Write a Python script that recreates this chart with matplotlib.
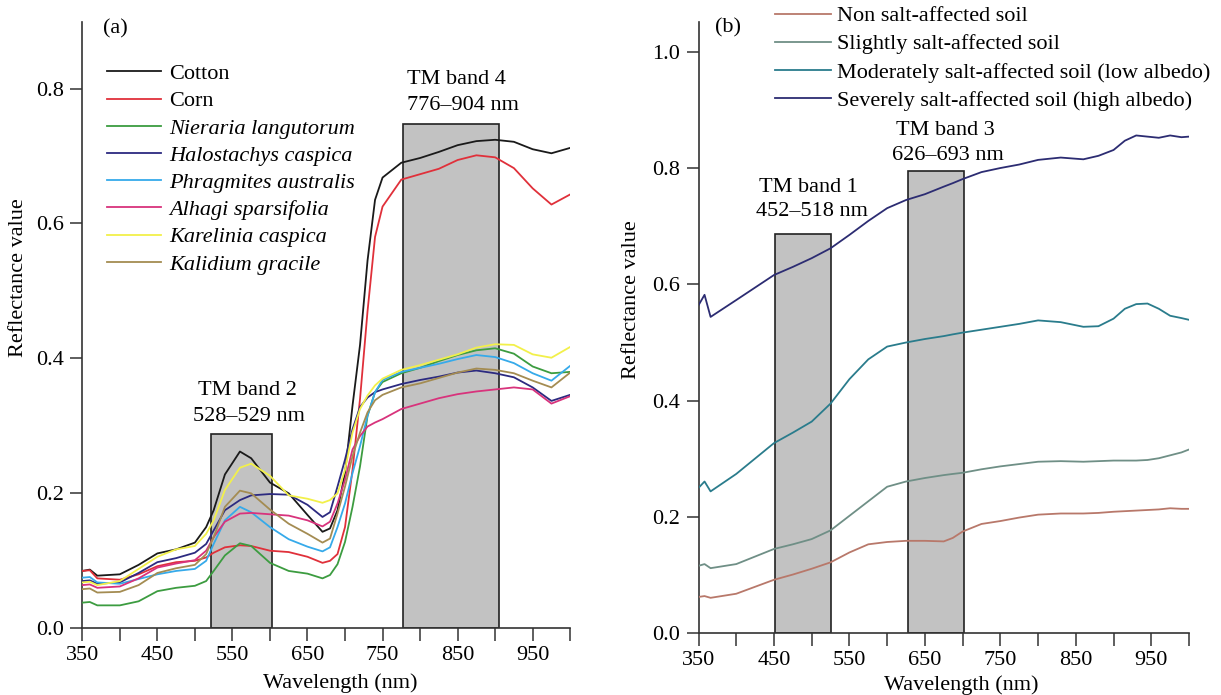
import matplotlib
matplotlib.use("Agg")
import matplotlib.pyplot as plt

plt.rcParams['font.family'] = ['Liberation Serif', 'DejaVu Serif']
FS = 16

# ---------------- panel (a): vegetation ----------------
wl_a = [350, 360, 370, 400, 425, 450, 475, 500, 515, 525, 540, 560, 575, 600, 625, 650,
        670, 680, 690, 700, 710, 720, 730, 740, 750, 775, 800, 825, 850, 875, 900, 925,
        950, 975, 1000]
cotton = [.085, .087, .078, .080, .094, .111, .117, .127, .150, .175, .228, .262, .252, .216,
          .200, .168, .143, .148, .175, .230, .330, .420, .545, .635, .668, .690, .697, .706,
          .716, .722, .724, .721, .710, .704, .712]
corn = [.085, .086, .074, .072, .080, .092, .098, .100, .105, .112, .120, .123, .122, .115,
        .113, .106, .097, .100, .110, .150, .235, .340, .470, .580, .625, .665, .673, .681,
        .694, .701, .698, .682, .652, .628, .643]
nieraria = [.038, .039, .034, .034, .040, .055, .060, .063, .070, .085, .108, .126, .122, .097,
            .085, .081, .074, .079, .095, .128, .180, .240, .315, .350, .365, .378, .386, .396,
            .405, .412, .415, .407, .388, .378, .380]
halostachys = [.070, .071, .066, .068, .082, .098, .104, .112, .125, .145, .175, .190, .197, .199,
               .198, .183, .165, .172, .210, .250, .295, .328, .342, .350, .354, .362, .368, .373,
               .379, .382, .378, .372, .357, .337, .346]
phragmites = [.075, .076, .068, .066, .073, .080, .085, .088, .100, .125, .160, .180, .172, .150,
              .132, .121, .114, .120, .150, .185, .230, .270, .315, .350, .368, .380, .386, .392,
              .399, .405, .402, .393, .378, .367, .389]
alhagi = [.064, .065, .060, .062, .074, .090, .096, .101, .115, .135, .158, .170, .171, .169,
          .167, .160, .151, .158, .185, .220, .265, .285, .299, .305, .310, .325, .333, .341,
          .347, .351, .354, .357, .354, .333, .344]
karelinia = [.068, .069, .064, .070, .088, .106, .117, .122, .140, .160, .205, .238, .244, .226,
             .197, .192, .186, .190, .200, .235, .290, .325, .345, .360, .370, .383, .390, .398,
             .406, .416, .421, .420, .406, .401, .417]
kalidium = [.058, .059, .053, .054, .064, .082, .089, .094, .110, .135, .180, .204, .200, .176,
            .155, .140, .127, .133, .170, .210, .255, .290, .320, .338, .346, .357, .363, .371,
            .379, .385, .383, .378, .367, .357, .379]
names_a = ['Cotton', 'Corn', 'Nieraria langutorum', 'Halostachys caspica',
           'Phragmites australis', 'Alhagi sparsifolia', 'Karelinia caspica', 'Kalidium gracile']
colors_a = ['#1a1a1a', '#e0303a', '#3c9c40', '#2c2a80', '#36aaea', '#d8337c', '#f2f04a', '#a48c52']
bands_a = [(521.8, 602.3, 0.288), (776.7, 904.7, 0.748)]

# ---------------- panel (b): soils ----------------
wl_b = [350, 358, 366, 400, 450, 475, 500, 525, 550, 575, 600, 625, 650, 675, 687, 700,
        725, 750, 775, 800, 830, 860, 880, 900, 915, 930, 945, 960, 975, 990, 1000]
non_salt = [.0625, .064, .061, .068, .092, .101, .111, .122, .139, .153, .157, .159, .159, .158,
            .164, .175, .188, .193, .199, .204, .206, .206, .207, .209, .210, .211, .212, .213,
            .215, .214, .214]
slight = [.116, .119, .112, .119, .145, .153, .162, .177, .202, .227, .252, .261, .267, .272,
          .274, .276, .282, .287, .291, .295, .296, .295, .296, .297, .297, .297, .298, .301,
          .306, .311, .316]
moderate = [.250, .261, .244, .274, .327, .345, .364, .395, .437, .471, .493, .500, .506, .511,
            .514, .517, .522, .527, .532, .538, .535, .527, .528, .541, .558, .566, .567, .558,
            .546, .542, .539]
severe = [.564, .582, .544, .573, .616, .630, .645, .662, .685, .709, .731, .745, .755, .768,
          .774, .781, .793, .800, .806, .814, .818, .815, .821, .831, .847, .856, .854, .852,
          .856, .853, .854]
names_b = ['Non salt-affected soil', 'Slightly salt-affected soil',
           'Moderately salt-affected soil (low albedo)', 'Severely salt-affected soil (high albedo)']
colors_b = ['#b8786a', '#6f8f86', '#2a7c8c', '#2c2c72']
bands_b = [(451.4, 525.9, 0.687), (627.3, 702.4, 0.795)]

xticks = list(range(350, 1001, 50))
xticklabels = [str(t) if (t - 350) % 100 == 0 else '' for t in xticks]
yticks_a = [0.0, 0.2, 0.4, 0.6, 0.8]
yticks_b = [0.0, 0.2, 0.4, 0.6, 0.8, 1.0]

fig = plt.figure(figsize=(12.21, 6.95), dpi=100)
ax1 = fig.add_axes([82.3 / 1221, 66.7 / 695, 487.9 / 1221, 606.6 / 695])
ax2 = fig.add_axes([698.5 / 1221, 61.7 / 695, 490.5 / 1221, 611.6 / 695])


def style_axes(ax, ymax, yticks):
    ax.set_xlim(350, 1000)
    ax.set_ylim(0, ymax)
    for s in ['top', 'right']:
        ax.spines[s].set_visible(False)
    for s in ['left', 'bottom']:
        ax.spines[s].set_linewidth(1.2)
        ax.spines[s].set_color('#333333')
    ax.set_xticks(xticks)
    ax.set_xticklabels(xticklabels)
    ax.set_yticks(yticks)
    ax.set_yticklabels(['%.1f' % v for v in yticks])
    ax.tick_params(direction='out', length=9, width=1.1, color='#333333', pad=4,
                   labelsize=FS)


# panel (a)
for lo, hi, top in bands_a:
    ax1.bar(lo, top, width=hi - lo, align='edge', color='#c2c2c2', edgecolor='#222222',
            linewidth=1.2, zorder=1)
series_a = [cotton, corn, nieraria, halostachys, phragmites, alhagi, karelinia, kalidium]
for ys, name, c in zip(series_a, names_a, colors_a):
    ax1.plot(wl_a, ys, color=c, lw=1.3, label=name, zorder=3)
style_axes(ax1, 0.899, yticks_a)
leg = ax1.legend(loc='upper left', bbox_to_anchor=(0.0506, 0.931), frameon=False,
                 fontsize=FS, handlelength=2.45, handletextpad=0.35, labelspacing=0.30,
                 borderpad=0, borderaxespad=0)
for t in leg.get_texts()[2:]:
    t.set_fontstyle('italic')
ax1.text(378, 0.889, '(a)', fontsize=FS, va='center', ha='left')
ax1.text(782, 0.814, 'TM band 4', fontsize=FS, va='center', ha='left')
ax1.text(782, 0.775, '776–904 nm', fontsize=FS, va='center', ha='left')
ax1.text(570, 0.353, 'TM band 2', fontsize=FS, va='center', ha='center')
ax1.text(572, 0.3145, '528–529 nm', fontsize=FS, va='center', ha='center')

# panel (b)
for lo, hi, top in bands_b:
    ax2.bar(lo, top, width=hi - lo, align='edge', color='#c2c2c2', edgecolor='#222222',
            linewidth=1.2, zorder=1)
series_b = [non_salt, slight, moderate, severe]
for ys, name, c in zip(series_b, names_b, colors_b):
    ax2.plot(wl_b, ys, color=c, lw=1.3, label=name, zorder=3)
style_axes(ax2, 1.0516, yticks_b)
ax2.legend(loc='upper left', bbox_to_anchor=(0.156, 1.026), frameon=False,
           fontsize=FS, handlelength=2.5, handletextpad=0.3, labelspacing=0.34,
           borderpad=0, borderaxespad=0)
ax2.text(372, 1.041, '(b)', fontsize=FS, va='center', ha='left')
ax2.text(496, 0.767, 'TM band 1', fontsize=FS, va='center', ha='center')
ax2.text(500, 0.7245, '452–518 nm', fontsize=FS, va='center', ha='center')
ax2.text(677, 0.865, 'TM band 3', fontsize=FS, va='center', ha='center')
ax2.text(681, 0.822, '626–693 nm', fontsize=FS, va='center', ha='center')

# axis titles
fig.text(19 / 1221, 1 - 278 / 695, 'Reflectance value', rotation=90, fontsize=FS,
         ha='center', va='center')
fig.text(632 / 1221, 1 - 300 / 695, 'Reflectance value', rotation=90, fontsize=FS,
         ha='center', va='center')
fig.text(340.6 / 1221, 1 - 683 / 695, 'Wavelength (nm)', fontsize=FS, ha='center', va='center')
fig.text(961.6 / 1221, 1 - 685 / 695, 'Wavelength (nm)', fontsize=FS, ha='center', va='center')

fig.savefig('out.png', dpi=100, facecolor='white')
